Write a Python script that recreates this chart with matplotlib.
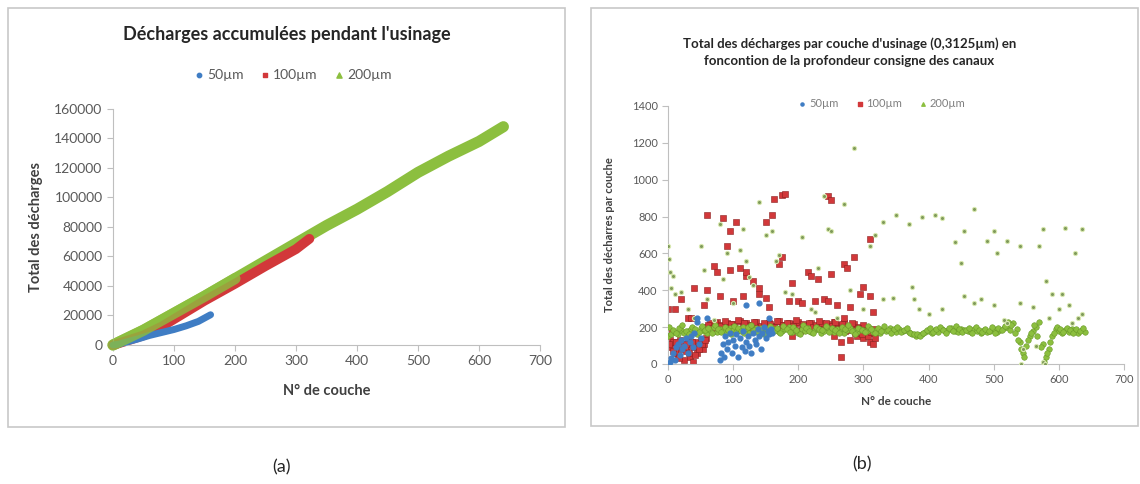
import numpy as np
import matplotlib
matplotlib.use('Agg')
import matplotlib.pyplot as plt
from matplotlib.patches import Rectangle

plt.rcParams['font.family'] = ['Lato', 'DejaVu Sans']

# ---- (a) courbes cumulées : points ----
a_x_50 = [0, 10, 20, 40, 60, 80, 100, 120, 140, 160]
a_y_50 = [0, 600, 1800, 4000, 6500, 8500, 10500, 13000, 16000, 20500]
a_x_100 = [0, 20, 50, 80, 100, 150, 200, 250, 300, 322]
a_y_100 = [0, 2500, 6500, 12500, 17500, 30000, 41500, 53500, 65000, 72000]
a_x_200 = [0, 50, 100, 150, 200, 250, 300, 350, 400, 450, 500, 550, 600, 640]
a_y_200 = [0, 10000, 21500, 33000, 45000, 57000, 69000, 81000, 92000, 104000, 117000, 128000, 138000, 148000]

# ---- (b) décharges par couche ----
# 50um
b_x_50 = [0, 3, 5, 8, 10, 12, 15, 18, 20, 22, 25, 28, 30, 33, 35, 38, 40, 45, 48, 50,
          80, 82, 84, 86, 88, 90, 92, 95, 98, 100, 103, 105, 108, 110, 113, 115, 118, 120,
          123, 125, 128, 130, 133, 135, 138, 140, 143, 145, 148, 150, 153, 155, 158, 160,
          120, 140, 155, 45, 60]
b_y_50 = [0, 10, 30, 60, 20, 90, 110, 50, 130, 80, 100, 140, 60, 120, 150, 90, 170, 250, 110, 140,
          20, 60, 110, 40, 150, 80, 120, 170, 60, 130, 100, 160, 40, 140, 90, 180, 70, 120,
          150, 100, 60, 170, 130, 110, 190, 150, 80, 170, 200, 140, 180, 160, 190, 170,
          320, 330, 250, 230, 250]
# 100um - bande + points dispersés
b_x_100 = [0, 3, 5, 8, 10, 13, 15, 18, 20, 23, 25, 28, 30, 33, 35, 38, 40, 43, 45, 48, 50, 53, 55, 58,
           60, 65, 70, 75, 80, 85, 90, 95, 100, 105, 110, 115, 120, 125, 130, 135, 140, 145,
           150, 155, 160, 165, 170, 175, 180, 185, 190, 195, 200, 205, 210, 215, 220, 225,
           230, 235, 240, 245, 250, 255, 260, 265, 270, 275, 280, 285, 290, 295, 300, 305,
           310, 315, 320,
           60, 85, 95, 105, 150, 160, 162, 175, 180, 245, 250, 310, 90, 40, 70, 75, 95,
           110, 120, 130, 140, 170, 175, 190, 200, 205, 215, 220, 230, 240, 245, 250, 260,
           270, 275, 285, 295, 300, 310, 315, 20, 55, 60, 80, 100, 115, 120, 140, 150, 155,
           185, 0, 10, 30, 35, 265, 265, 270, 280, 300, 310, 315, 290, 280, 190, 225, 255,
           2, 7, 12, 17, 22, 27, 32, 37, 42, 47, 52, 57]
b_y_100 = [190, 130, 90, 120, 60, 100, 40, 130, 80, 110, 20, 70, 130, 40, 100, 10, 90, 120, 60, 100, 130, 80, 110, 140,
           200, 220, 195, 230, 210, 185, 225, 200, 215, 190, 235, 205, 220, 195, 210, 230,
           200, 185, 215, 225, 205, 190, 235, 210, 200, 220, 195, 215, 230, 200, 185, 210,
           225, 195, 205, 220, 190, 215, 200, 230, 210, 195, 220, 185, 205, 215, 200, 190,
           210, 180, 170, 190, 175,
           810, 790, 720, 770, 770, 810, 895, 915, 920, 910, 890, 680, 640, 410, 530, 500, 510,
           520, 480, 450, 410, 540, 580, 440, 340, 330, 500, 480, 460, 350, 340, 490, 320,
           540, 520, 580, 380, 420, 370, 280, 350, 320, 400, 370, 340, 370, 500, 380, 360, 310,
           340, 300, 300, 250, 250, 40, 120, 250, 310, 140, 120, 110, 150, 130, 150, 340, 150,
           110, 70, 120, 30, 90, 110, 60, 120, 50, 80, 110, 130]
b_band_x_100 = list(range(62, 322, 5))
b_band_y_100 = [210, 195, 225, 180, 205, 235, 190, 215, 200, 240,
                185, 220, 195, 210, 230, 180, 205, 225, 190, 215,
                200, 235, 185, 210, 220, 195, 205, 240, 180, 215,
                190, 225, 200, 210, 235, 185, 220, 195, 205, 230,
                190, 215, 180, 200, 225, 170, 195, 160, 185, 150,
                175, 140]
# 200um - bande autour de 180
b_band_x_200 = list(range(0, 645, 5))
b_band_y_200 = [150, 165, 175, 160, 185, 170, 180, 190, 175, 165, 195, 180, 170, 185, 200, 175,
                190, 180, 170, 195, 185, 175, 190, 200, 180, 170, 185, 195, 175, 190, 180, 170,
                195, 185, 175, 180, 190, 200, 175, 185, 170, 190, 180, 195, 175, 185, 190, 170,
                180, 195, 185, 175, 190, 180, 170, 185, 195, 180, 175, 190, 185, 180, 195, 175,
                185, 170, 190, 180, 195, 185, 175, 190, 180, 185, 175, 160, 150, 155, 165, 175,
                180, 170, 185, 175, 190, 180, 185, 195, 180, 175, 190, 185, 180, 175, 190, 180,
                170, 185, 175, 180, 190, 175, 185, 195, 200, 185, 220, 190, 120, 60, 100, 150,
                180, 200, 230, 110, 40, 80, 150, 190, 180, 170, 185, 175, 190, 180, 170, 185, 175]
b_band2_x_200 = list(range(2, 642, 5))
b_band2_y_200 = [200, 185, 170, 195, 210, 180, 165, 200, 190, 175, 205, 185, 195, 170, 210, 190,
                 175, 200, 185, 165, 205, 195, 180, 170, 200, 210, 185, 175, 195, 165, 190, 205,
                 180, 195, 170, 205, 190, 175, 200, 185, 165, 210, 195, 180, 170, 200, 190, 185,
                 205, 175, 195, 185, 170, 200, 190, 210, 180, 165, 195, 185, 175, 205, 190, 170,
                 195, 180, 205, 185, 170, 190, 200, 175, 185, 195, 170, 160, 165, 150, 170, 185,
                 195, 175, 190, 200, 185, 170, 195, 180, 205, 190, 175, 185, 195, 170, 200, 185,
                 175, 190, 180, 200, 170, 195, 185, 205, 230, 210, 170, 130, 80, 40, 130, 170,
                 210, 150, 90, 10, 60, 120, 170, 200, 190, 175, 195, 185, 170, 190, 180, 195]
b_out_x_200 = [0, 2, 3, 5, 8, 10, 20, 30, 40, 50, 55, 60, 70, 80, 85, 90, 100, 110, 115, 120,
               125, 130, 140, 150, 160, 165, 170, 180, 190, 205, 220, 225, 230, 240, 245, 250,
               260, 270, 280, 285, 300, 310, 318, 330, 350, 370, 390, 410, 420, 440, 455, 470,
               490, 500, 520, 540, 575, 610, 625, 635, 330, 345, 375, 378, 385, 400, 420, 450,
               455, 470, 480, 500, 505, 515, 520, 540, 560, 570, 580, 590, 605, 615, 620, 630,
               635, 585, 600, 542, 575, 578, 565, 545]
b_out_y_200 = [640, 570, 500, 410, 480, 380, 390, 300, 250, 640, 510, 350, 240, 760, 460, 600,
               330, 620, 730, 560, 470, 430, 880, 700, 720, 560, 590, 390, 380, 690, 300, 280,
               520, 910, 730, 720, 250, 870, 400, 1170, 300, 640, 700, 770, 810, 760, 800, 810,
               790, 660, 720, 840, 670, 720, 670, 640, 730, 740, 600, 730, 350, 360, 420, 350,
               300, 270, 300, 550, 370, 330, 350, 320, 600, 240, 220, 330, 310, 640, 450, 380,
               380, 320, 220, 250, 270, 250, 300, 0, 10, 0, 100, 80]

col_50 = '#3f7dc4'
col_100 = '#d2383a'
col_200 = '#8cbf3f'
gris = '#595959'
axe = '#bfbfbf'

fig = plt.figure(figsize=(11.4, 4.84), dpi=100)
fig.patch.set_facecolor('white')

# cadres
fig.patches.append(Rectangle((0.007, 0.118), 0.489, 0.866, transform=fig.transFigure,
                             fill=False, edgecolor='#c8c8c8', linewidth=1.2))
fig.patches.append(Rectangle((0.518, 0.120), 0.480, 0.864, transform=fig.transFigure,
                             fill=False, edgecolor='#c8c8c8', linewidth=1.2))


def style_axes(ax, size):
    for s in ['top', 'right']:
        ax.spines[s].set_visible(False)
    for s in ['left', 'bottom']:
        ax.spines[s].set_color(axe)
    ax.tick_params(colors=axe, labelcolor=gris, labelsize=size, length=4, width=0.8)


# ---- (a) ----
ax1 = fig.add_axes([0.0991, 0.2872, 0.3746, 0.4876])
ax1.plot(a_x_200, a_y_200, color=col_200, lw=8, solid_capstyle='round', zorder=1, clip_on=False)
ax1.plot(a_x_100, a_y_100, color=col_100, lw=7, solid_capstyle='round', zorder=2, clip_on=False)
ax1.plot(a_x_50, a_y_50, color=col_50, lw=5, solid_capstyle='round', zorder=3, clip_on=False)
ax1.plot(a_x_200[:5], a_y_200[:5], color=col_200, lw=8, solid_capstyle='round', zorder=4,
         alpha=0.8, clip_on=False)
ax1.set_xlim(0, 700)
ax1.set_ylim(0, 160000)
ax1.set_xticks(range(0, 800, 100))
ax1.set_yticks(range(0, 180000, 20000))
style_axes(ax1, 10)
ax1.set_xlabel('N° de couche', fontsize=10.5, fontweight='bold', color='#404040', labelpad=12)
ax1.set_ylabel('Total des décharges', fontsize=10.5, fontweight='bold', color='#404040', labelpad=8)
fig.text(0.252, 0.928, "Décharges accumulées pendant l'usinage", ha='center', va='center',
         fontsize=13, fontweight='bold', color='#262626')
h1 = ax1.scatter([], [], s=10, marker='o', color=col_50, label='50µm')
h2 = ax1.scatter([], [], s=12, marker='s', color=col_100, label='100µm')
h3 = ax1.scatter([], [], s=14, marker='^', color=col_200, label='200µm')
fig.legend(handles=[h1, h2, h3], loc='center', bbox_to_anchor=(0.256, 0.845), ncol=3,
           frameon=False, fontsize=10, labelcolor=gris, handletextpad=0.1,
           columnspacing=1.0, handlelength=1.0)

# ---- (b) ----
ax2 = fig.add_axes([0.586, 0.248, 0.400, 0.533])
ax2.scatter(b_x_100, b_y_100, s=16, marker='s', color=col_100,
            edgecolors='#8a1f1f', linewidths=0.4, zorder=2)
ax2.scatter(b_band_x_100, b_band_y_100, s=16, marker='s', color=col_100,
            edgecolors='#8a1f1f', linewidths=0.4, zorder=2)
ax2.scatter(b_band_x_200, b_band_y_200, s=16, marker='o', color=col_200,
            edgecolors='#6a9a2a', linewidths=0.4, zorder=3)
ax2.scatter(b_band2_x_200, b_band2_y_200, s=16, marker='o', color=col_200,
            edgecolors='#6a9a2a', linewidths=0.4, zorder=3)
ax2.scatter(b_x_50, b_y_50, s=12, marker='o', color=col_50, zorder=4)
ax2.scatter(b_out_x_200, b_out_y_200, s=9, marker='o', color='#7f9a5a',
            edgecolors='#d8e8b0', linewidths=0.8, zorder=3)
ax2.set_xlim(0, 700)
ax2.set_ylim(0, 1400)
ax2.set_xticks(range(0, 800, 100))
ax2.set_yticks(range(0, 1600, 200))
style_axes(ax2, 8)
ax2.set_xlabel('N° de couche', fontsize=8.5, fontweight='bold', color='#404040', labelpad=8)
ax2.set_ylabel('Total des décharres par couche', fontsize=8, fontweight='bold',
               color='#404040', labelpad=12)
fig.text(0.745, 0.893, "Total des décharges par couche d'usinage (0,3125µm) en\n"
         "foncontion de la profondeur consigne des canaux", ha='center', va='center',
         fontsize=9.5, fontweight='bold', color='#262626', linespacing=1.5)
g1 = ax2.scatter([], [], s=5, marker='o', color=col_50, label='50µm')
g2 = ax2.scatter([], [], s=8, marker='s', color=col_100, label='100µm')
g3 = ax2.scatter([], [], s=6, marker='^', color=col_200, label='200µm')
fig.legend(handles=[g1, g2, g3], loc='center', bbox_to_anchor=(0.773, 0.787), ncol=3,
           frameon=False, fontsize=8, labelcolor='#7f7f7f', handletextpad=0.1,
           columnspacing=1.4, handlelength=1.0)

fig.text(0.247, 0.035, '(a)', ha='center', va='center', fontsize=13, color='#262626')
fig.text(0.756, 0.04, '(b)', ha='center', va='center', fontsize=13, color='#262626')

fig.savefig('out.png', dpi=100, facecolor='white')
